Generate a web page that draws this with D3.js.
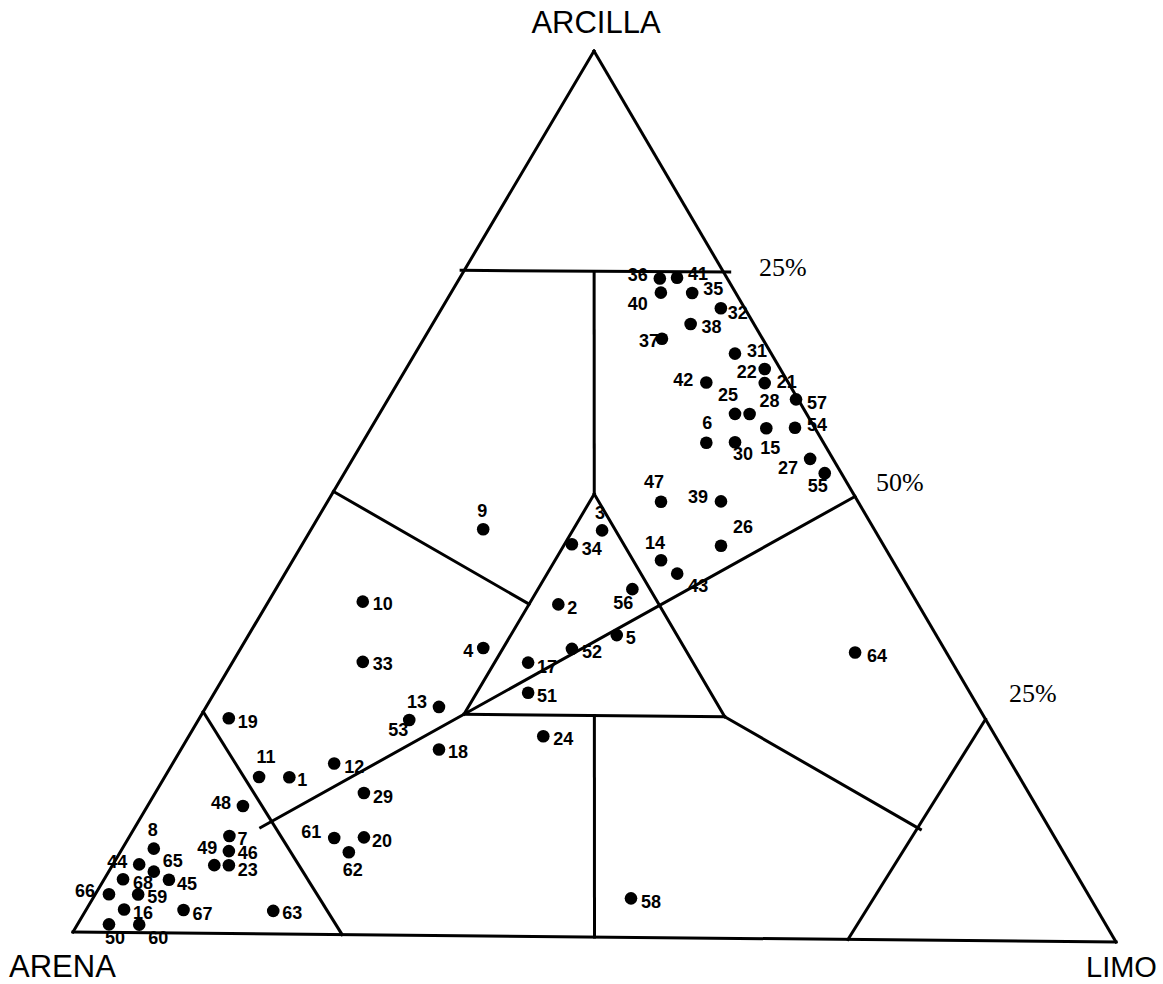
<!DOCTYPE html>
<html>
<head>
<meta charset="utf-8">
<script src="https://cdn.jsdelivr.net/npm/d3@7"></script>
<style>
  body { margin: 0; background: #fff; }
</style>
</head>
<body>
<div id="ternary"></div>
<script>
// Soil texture triangle: arena / limo / arcilla (%)

const width = 1163;
const height = 984;

// sample numbers
const samples = d3.range(1, 69);

// sand %
const arena = [70.4, 34.7, 26.3, 44.4, 30.8, 11.3, 79.5, 87.5, 37.7, 53.4,
  73.3, 65.3, 52.0, 22.3, 4.7, 93.8, 40.9, 54.4, 72.9, 66.6,
  2.3, 1.5, 81.2, 43.6, 6.9, 15.7, 2.2, 5.5, 64.1, 8.5,
  3.5, 2.3, 56.8, 30.0, 4.2, 6.5, 9.7, 6.1, 13.2, 7.2,
  4.8, 7.9, 21.5, 89.8, 87.8, 80.4, 19.0, 76.5, 82.6, 96.1,
  42.6, 35.9, 55.6, 1.9, 1.6, 26.7, 0.2, 44.3, 91.6, 93.2,
  69.5, 68.9, 79.5, 8.8, 88.8, 94.4, 88.1, 92.2];

// silt %
const limo = [11.9, 27.8, 27.8, 23.1, 35.1, 32.8, 9.5, 3.0, 16.4, 9.0,
  9.0, 15.4, 22.2, 35.1, 37.7, 3.6, 28.2, 24.6, 2.8, 22.4,
  35.0, 34.2, 11.1, 33.8, 33.9, 40.0, 43.6, 35.3, 19.9, 35.5,
  30.5, 26.6, 12.4, 25.7, 23.0, 19.1, 22.7, 24.6, 37.5, 20.0,
  20.7, 29.4, 37.4, 2.5, 6.2, 10.3, 31.8, 9.1, 9.7, 3.0,
  29.9, 31.6, 20.1, 40.4, 45.8, 34.0, 38.9, 51.3, 4.1, 5.9,
  19.6, 21.8, 17.9, 58.8, 4.3, 1.3, 9.3, 1.8];

// clay %
const arcilla = [17.7, 37.5, 45.9, 32.5, 34.1, 55.9, 11.0, 9.5, 45.9, 37.6,
  17.7, 19.3, 25.8, 42.6, 57.6, 2.6, 30.9, 21.0, 24.3, 11.0,
  62.7, 64.3, 7.7, 22.6, 59.2, 44.3, 54.2, 59.2, 16.0, 56.0,
  66.0, 71.1, 30.8, 44.3, 72.8, 74.4, 67.6, 69.3, 49.3, 72.8,
  74.5, 62.7, 41.1, 7.7, 6.0, 9.3, 49.2, 14.4, 7.7, 0.9,
  27.5, 32.5, 24.3, 57.7, 52.6, 39.3, 60.9, 4.4, 4.3, 0.9,
  10.9, 9.3, 2.6, 32.4, 6.9, 4.3, 2.6, 6.0];

// class boundaries as [arena, limo, arcilla] end points
const boundaries = [
  [[100, 0, 0], [0, 100, 0]],
  [[0, 100, 0], [0, 0, 100]],
  [[0, 0, 100], [100, 0, 0]],
  [[25.2, -0.3, 75.1], [-0.6, 25.4, 75.2]],
  [[12.5, 12.5, 75], [25, 25, 50]],
  [[25, 25, 50], [50, 25, 25]],
  [[50, 25, 25], [25, 50, 25]],
  [[25, 50, 25], [25, 25, 50]],
  [[50, 0, 50], [37.5, 25, 37.5]],
  [[76, 12, 12], [0, 50, 50]],
  [[75, 0, 25], [74.2, 25.8, 0]],
  [[37.5, 37.5, 25], [50, 50, 0]],
  [[25, 50, 25], [12.5, 75, 12.5]],
  [[0, 75, 25], [25.7, 74.3, 0]]
];

// where each number sits relative to its dot
const labelOffsets = [[13,2],[14,3],[-2,-18],[-15,3],[14,2],[1,-20],[13,2],[-1,-19],[-1,-19],[20,2],
  [7,-20],[20,3],[-22,-5],[-6,-18],[4,19],[19,3],[19,4],[19,2],[19,3],[18,3],
  [22,-2],[-18,3],[19,4],[20,2],[-7,-19],[22,-19],[-22,9],[20,-13],[19,3],[8,11],
  [22,-3],[17,4],[20,2],[20,4],[21,-4],[-22,-4],[-13,2],[21,3],[-23,-5],[-23,11],
  [21,-4],[-23,-3],[21,12],[-22,-3],[18,4],[19,1],[-7,-20],[-22,-4],[-7,-18],[6,13],
  [19,3],[20,3],[-11,10],[22,-3],[-7,12],[-9,13],[21,3],[20,3],[19,2],[19,13],
  [-23,-6],[4,17],[19,2],[22,3],[19,-11],[-24,-4],[19,3],[20,3]];

// corner positions of the triangle on the page
const vArena = [73, 932];
const vLimo = [1116, 942];
const vArcilla = [594, 51];

const frac = d3.scaleLinear().domain([0, 100]).range([0, 1]);

function project(a, l, c) {
  const s = frac(a) + frac(l) + frac(c);
  const fa = frac(a) / s, fl = frac(l) / s, fc = frac(c) / s;
  return [
    fa * vArena[0] + fl * vLimo[0] + fc * vArcilla[0],
    fa * vArena[1] + fl * vLimo[1] + fc * vArcilla[1]
  ];
}

const points = samples.map((id, i) => {
  const p = project(arena[i], limo[i], arcilla[i]);
  return {id: id, x: p[0], y: p[1], off: labelOffsets[i]};
});

const svg = d3.select("#ternary")
  .append("svg")
  .attr("width", width)
  .attr("height", height)
  .attr("viewBox", [0, 0, width, height]);

svg.append("rect")
  .attr("width", width)
  .attr("height", height)
  .attr("fill", "#fff");

// boundary lines
const line = d3.line();
svg.append("g")
  .selectAll("path")
  .data(boundaries)
  .enter()
  .append("path")
    .attr("d", d => line(d.map(t => project(t[0], t[1], t[2]))))
    .attr("fill", "none")
    .attr("stroke", "#000")
    .attr("stroke-width", 3)
    .attr("stroke-linecap", "square");

// dots
svg.append("g")
  .selectAll("circle")
  .data(points)
  .enter()
  .append("circle")
    .attr("cx", d => d.x)
    .attr("cy", d => d.y)
    .attr("r", 6.3)
    .attr("fill", "#000");

// sample numbers
svg.append("g")
  .attr("font-family", "Arial, 'Liberation Sans', sans-serif")
  .attr("font-weight", "bold")
  .attr("font-size", "18px")
  .selectAll("text")
  .data(points)
  .enter()
  .append("text")
    .attr("x", d => d.x + d.off[0])
    .attr("y", d => d.y + d.off[1])
    .attr("text-anchor", "middle")
    .attr("dy", "0.36em")
    .text(d => d.id);

// vertex names
const corners = svg.append("g")
  .attr("font-family", "Arial, 'Liberation Sans', sans-serif")
  .attr("fill", "#000");
corners.append("text").attr("x", 596).attr("y", 33).attr("text-anchor", "middle")
  .attr("font-size", "31px").text("ARCILLA");
corners.append("text").attr("x", 9).attr("y", 977)
  .attr("font-size", "31px").text("ARENA");
corners.append("text").attr("x", 1086).attr("y", 977)
  .attr("font-size", "29px").text("LIMO");

// percentage marks
const pcts = svg.append("g")
  .attr("font-family", "'Times New Roman', 'Liberation Serif', serif")
  .attr("font-size", "26px");
pcts.append("text").attr("x", 759).attr("y", 276).text("25%");
pcts.append("text").attr("x", 876).attr("y", 491).text("50%");
pcts.append("text").attr("x", 1009).attr("y", 702).text("25%");
</script>
</body>
</html>
